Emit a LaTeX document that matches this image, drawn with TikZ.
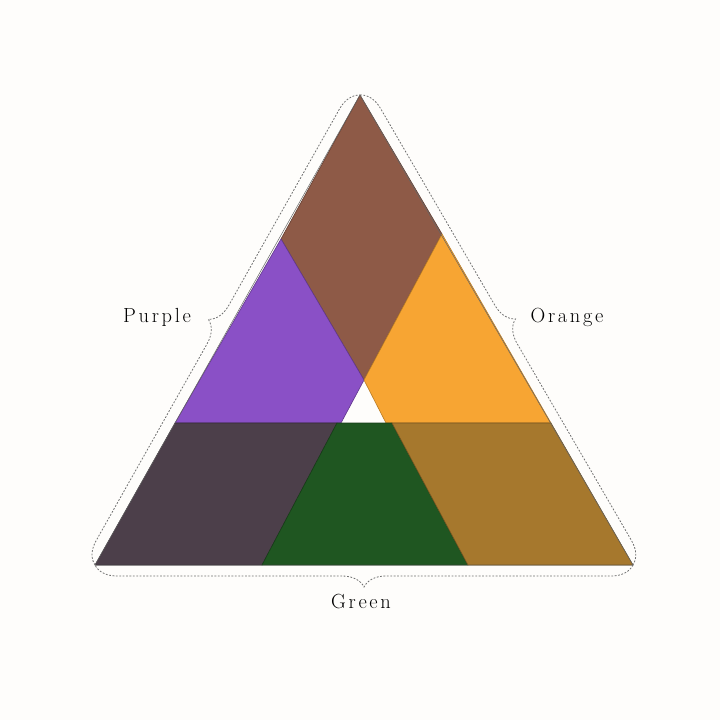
\documentclass[tikz,border=0pt]{standalone}
\usepackage{fontspec}
\setmainfont{Latin Modern Roman}
\usetikzlibrary{decorations.pathreplacing}
\definecolor{paper}{HTML}{FEFDFB}
\definecolor{cbrown}{HTML}{8E5A47}
\definecolor{cpurple}{HTML}{8A50C6}
\definecolor{corange}{HTML}{F7A533}
\definecolor{cdark}{HTML}{4C3F4A}
\definecolor{cgreen}{HTML}{1F5621}
\definecolor{cgold}{HTML}{A6782D}
\definecolor{dotline}{HTML}{707070}
\tikzset{
  piece/.style={line width=0.6bp, line join=round},
  dotbrace/.style={draw=dotline, line width=0.8bp, dash pattern=on 1.8bp off 1.6bp,
    decorate, decoration={brace, amplitude=22bp}},
  lbl/.style={font=\fontsize{20.5}{24}\selectfont\addfontfeature{LetterSpace=13}, text=black, inner sep=0pt}
}
\begin{document}
\begin{tikzpicture}[x=1bp,y=-1bp]
\fill[paper] (0,0) rectangle (720,720);
\useasboundingbox (0,0) rectangle (720,720);
% corners
\coordinate (A) at (360,95);
\coordinate (BL) at (95,565);
\coordinate (BR) at (633,565);
\coordinate (L1) at (281,239);
\coordinate (R1) at (442,234);
\coordinate (C) at (364,380);
\coordinate (L2) at (175,423);
\coordinate (R2) at (551,423);
\coordinate (W1) at (341,423);
\coordinate (W2) at (386,423);
\coordinate (G1) at (337,423);
\coordinate (G2) at (392,423);
\coordinate (G3) at (262,565);
\coordinate (G4) at (468,565);
% pieces
\filldraw[piece, fill=cbrown, draw=cbrown!70!black] (A) -- (R1) -- (C) -- (L1) -- cycle;
\filldraw[piece, fill=cpurple, draw=cpurple!70!black] (L1) -- (C) -- (W1) -- (L2) -- cycle;
\filldraw[piece, fill=corange, draw=corange!75!black] (R1) -- (R2) -- (W2) -- (C) -- cycle;
\filldraw[piece, fill=cdark, draw=cdark!70!black] (L2) -- (G1) -- (G3) -- (BL) -- cycle;
\filldraw[piece, fill=cgreen, draw=cgreen!70!black] (G1) -- (G2) -- (G4) -- (G3) -- cycle;
\filldraw[piece, fill=cgold, draw=cgold!70!black] (G2) -- (R2) -- (BR) -- (G4) -- cycle;
% triangle outline
\draw[black!60, line width=0.5bp, line join=round] (A) -- (BR) -- (BL) -- cycle;
% dotted braces
\draw[dotbrace] (BL) -- (A);
\draw[dotbrace] (A) -- (BR);
\draw[dotbrace] (BR) -- (BL);
% labels
\node[lbl] (purple) at (157,317) {Purple};
\node[lbl] (orange) at (567,317) {Orange};
\node[lbl] (green) at (361,602) {Green};
\end{tikzpicture}
\end{document}
